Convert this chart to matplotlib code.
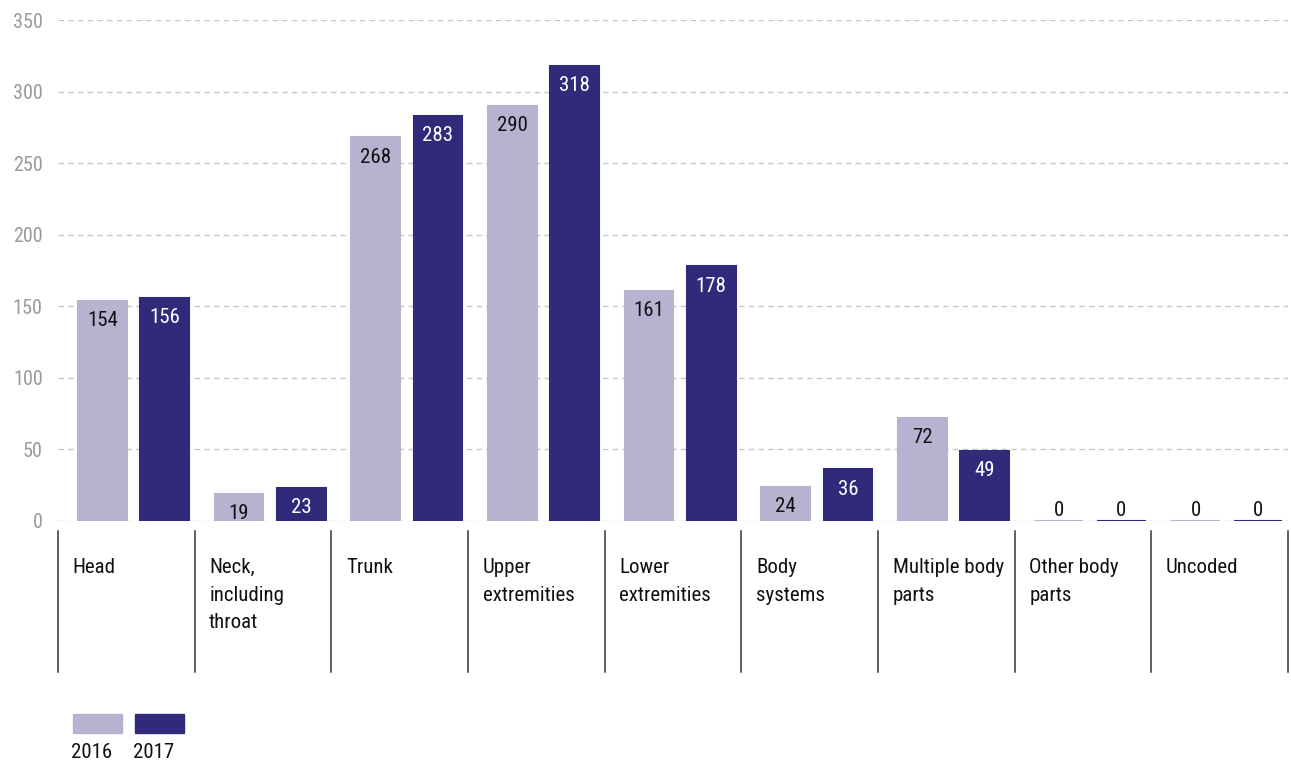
import matplotlib
matplotlib.use("Agg")
import matplotlib.pyplot as plt
from matplotlib import font_manager
from matplotlib.patches import Rectangle
import numpy as np

categories = ["Head", "Neck,\nincluding\nthroat", "Trunk", "Upper\nextremities",
              "Lower\nextremities", "Body\nsystems", "Multiple body\nparts",
              "Other body\nparts", "Uncoded"]
values_2016 = [154, 19, 268, 290, 161, 24, 72, 0, 0]
values_2017 = [156, 23, 283, 318, 178, 36, 49, 0, 0]
series_labels = ["2016", "2017"]
yticks = [0, 50, 100, 150, 200, 250, 300, 350]

color_2016 = "#b6b3d1"
color_2017 = "#312a7b"

names = {f.name for f in font_manager.fontManager.ttflist}
fam = next((n for n in ("Roboto Condensed", "PT Sans Narrow", "Archivo Narrow", "Liberation Sans")
            if n in names), "DejaVu Sans")
plt.rcParams["font.family"] = [fam, "DejaVu Sans"]

W, H = 1291, 761
fig = plt.figure(figsize=(W / 100, H / 100), dpi=100)
ax = fig.add_axes([58 / W, 1 - 521 / H, (1288 - 58) / W, (521 - 20) / H])

x = np.arange(len(categories))
bw = 0.355
off1, off2 = -0.175, 0.28

ax.set_ylim(0, 350)
ax.set_xlim(-0.5, len(categories) - 0.5)
ax.set_yticks(yticks)
ax.set_xticks([])
for s in ax.spines.values():
    s.set_visible(False)
ax.tick_params(axis="y", length=0, pad=11, labelsize=14.5, labelcolor="#9a9a9a")
ax.yaxis.grid(True, color="#c8c8c8", linewidth=1, linestyle=(0, (4, 3)))
ax.set_axisbelow(True)

b1 = ax.bar(x + off1, values_2016, bw, color=color_2016, edgecolor=color_2016, linewidth=1.5, zorder=3)
b2 = ax.bar(x + off2, values_2017, bw, color=color_2017, edgecolor=color_2017, linewidth=1.5, zorder=3)

fs = 15
for bars, vals, tc in ((b1, values_2016, "#111111"), (b2, values_2017, "white")):
    for rect, v in zip(bars, vals):
        cx = rect.get_x() + rect.get_width() / 2
        if v > 0:
            ax.annotate(str(v), (cx, v), xytext=(0, -7.5), textcoords="offset points",
                        ha="center", va="top", fontsize=fs, color=tc, zorder=4)
        else:
            ax.annotate(str(v), (cx, v), xytext=(0, 0.5), textcoords="offset points",
                        ha="center", va="bottom", fontsize=fs, color="#111111", zorder=4)

# category separators and labels below the axis
xt = ax.get_xaxis_transform()
for i in range(len(categories) + 1):
    ax.plot([i - 0.5, i - 0.5], [-0.02, -0.301], transform=xt, clip_on=False,
            color="#333333", linewidth=1.1)
for i, lab in enumerate(categories):
    ax.annotate(lab, (i - 0.5, -0.074), xycoords=xt, xytext=(10.5, 0),
                textcoords="offset points", ha="left", va="top", fontsize=fs,
                color="#111111", linespacing=1.58)

# legend
for (l, c, lab) in ((73, color_2016, series_labels[0]), (135, color_2017, series_labels[1])):
    fig.patches.append(Rectangle((l / W, 1 - 733 / H), 49 / W, 19 / H,
                                 transform=fig.transFigure, color=c))
    fig.text((l - 2) / W, 1 - 758 / H, lab, ha="left", va="baseline", fontsize=fs,
             color="#111111")

fig.savefig("out.png", dpi=100)
